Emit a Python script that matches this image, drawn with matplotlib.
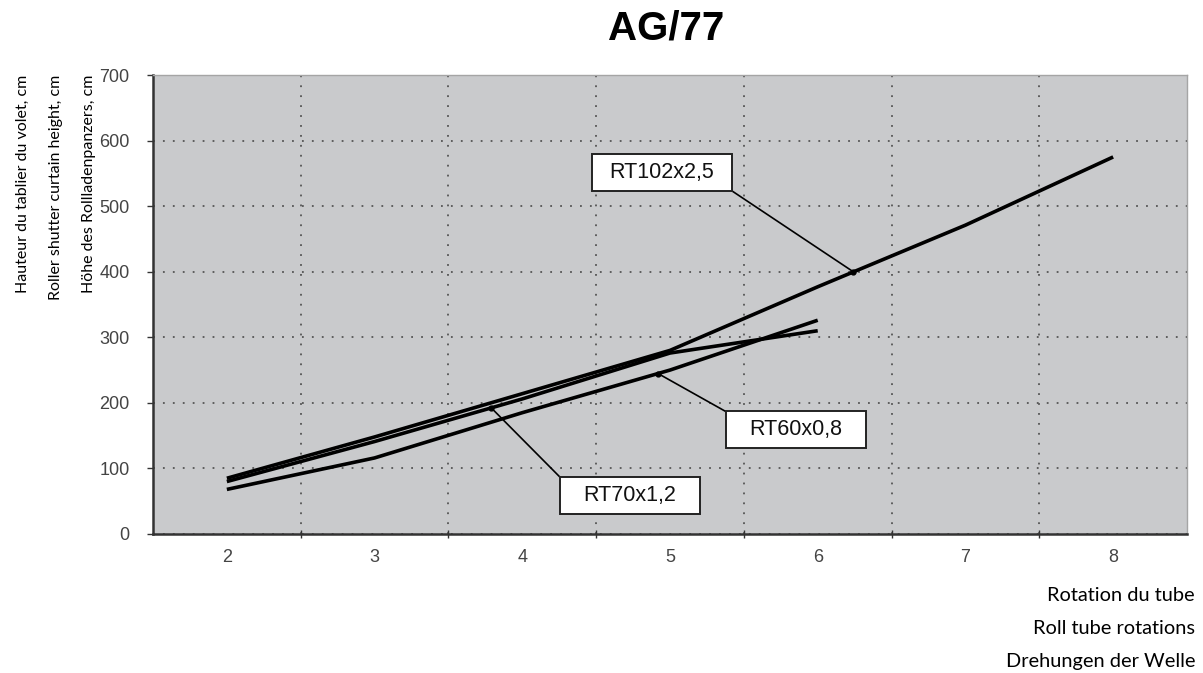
import matplotlib.pyplot as plt
from matplotlib.patches import Rectangle
import numpy as np

# data
rotations = [2, 3, 4, 5, 6, 7, 8]
rt102 = [85, 148, 214, 280, 377, 471, 575]
rt70 = [80, 141, 206, 276, 310]
rt60 = [68, 116, 185, 250, 326]

series = {
    "RT102x2,5": rt102,
    "RT70x1,2": rt70,
    "RT60x0,8": rt60,
}

y_ticks = [0, 100, 200, 300, 400, 500, 600, 700]
y_labels = ["Hauteur du tablier du volet, cm",
            "Roller shutter curtain height, cm",
            "Höhe des Rollladenpanzers, cm"]
x_labels = ["Rotation du tube", "Roll tube rotations", "Drehungen der Welle"]

# label boxes: name, box centre (x, y), which corner the leader leaves from, x of leader tip
callouts = [
    ("RT102x2,5", 4.946, 551, "br", 6.242),
    ("RT60x0,8", 5.851, 159, "tl", 4.919),
    ("RT70x1,2", 4.729, 59, "tl", 3.790),
]
box_w, box_h = 0.95, 56

arial = ["Liberation Sans", "DejaVu Sans"]

fig = plt.figure(figsize=(12.03, 6.73), dpi=100)
ax = fig.add_axes([153 / 1203, 1 - 534 / 673, (1187 - 153) / 1203, (534 - 75) / 673])
ax.set_facecolor("#c9cacc")

for name, vals in series.items():
    ax.plot(rotations[:len(vals)], vals, color="black", lw=2.6, solid_capstyle="butt", zorder=3)

ax.set_xlim(1.5, 8.5)
ax.set_ylim(0, 700)

# category-style x axis: ticks on the boundaries, labels in the middle
ax.set_xticks(np.arange(2.5, 8.5, 1))
ax.set_xticks(rotations, minor=True)
ax.set_xticklabels([])
ax.set_xticklabels([str(r) for r in rotations], minor=True)
ax.tick_params(axis="x", which="major", direction="inout", length=6, width=1, color="#333")
ax.tick_params(axis="x", which="minor", length=0, pad=11, labelsize=13, labelcolor="#444")
ax.set_yticks(y_ticks)
ax.tick_params(axis="y", direction="out", length=4, width=1, color="#333", pad=13,
               labelsize=13, labelcolor="#444")
for lab in ax.get_xticklabels(minor=True) + ax.get_yticklabels():
    lab.set_family(arial)

ax.grid(True, which="major", color="#555", linestyle=(0, (1, 4.5)), lw=1.3)
ax.set_axisbelow(True)

for side in ["left", "bottom"]:
    ax.spines[side].set_color("#333")
    ax.spines[side].set_linewidth(1.8)
for side in ["top", "right"]:
    ax.spines[side].set_color("#a5a5a5")
    ax.spines[side].set_linewidth(1)

# callout boxes with leader lines
for name, cx, cy, corner, tip_x in callouts:
    vals = series[name]
    tip_y = np.interp(tip_x, rotations[:len(vals)], vals)
    if corner == "br":
        sx, sy = cx + box_w / 2, cy - box_h / 2
    else:
        sx, sy = cx - box_w / 2, cy + box_h / 2
    ax.plot([sx, tip_x], [sy, tip_y], color="black", lw=1.2, zorder=4)
    ax.plot(tip_x, tip_y, "o", color="black", ms=3.5, zorder=4)
    ax.add_patch(Rectangle((cx - box_w / 2, cy - box_h / 2), box_w, box_h,
                           facecolor="white", edgecolor="#222", lw=1.4, zorder=5))
    ax.text(cx, cy, name, ha="center", va="center", fontsize=15.5, family=arial,
            color="#111", zorder=6)

fig.text(666 / 1203, 1 - 28 / 673, "AG/77", ha="center", va="center",
         fontsize=29, fontweight="bold", family=arial)

for i, t in enumerate(y_labels):
    fig.text((27 + 33 * i) / 1203, 1 - 75 / 673, t, rotation=90, ha="right", va="baseline",
             fontsize=11.5, family=["Lato", "DejaVu Sans"], rotation_mode="anchor")

for i, t in enumerate(x_labels):
    fig.text(1195 / 1203, 1 - (601 + 33 * i) / 673, t, ha="right", va="baseline",
             fontsize=14.4, family=["Lato", "DejaVu Sans"])

fig.savefig("out.png", dpi=100)
